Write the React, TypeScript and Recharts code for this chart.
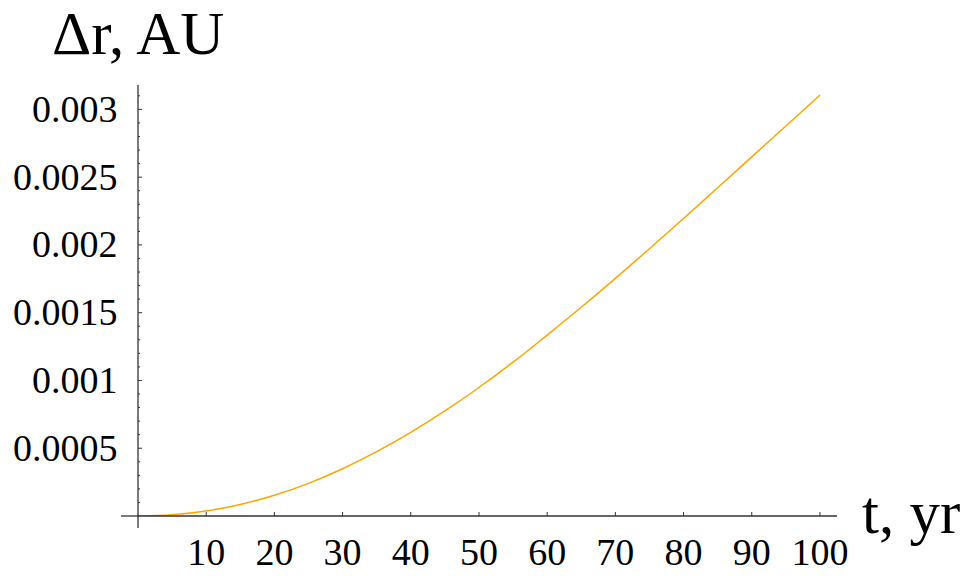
import { LineChart, Line, XAxis, YAxis, ReferenceLine } from "recharts";

// years since start
const years = [0, 5, 10, 15, 20, 25, 30, 35, 40, 45, 50, 55, 60, 65, 70, 75, 80, 85, 90, 95, 100];
// Δr in AU
const deltaR = [
  0, 0.0000095, 0.000037, 0.000085, 0.000153, 0.000241, 0.000349, 0.000475, 0.000617, 0.000775,
  0.000948, 0.001135, 0.001335, 0.00154, 0.001753, 0.001972, 0.002195, 0.002422, 0.00265, 0.002878,
  0.003105,
];
const xTicks = [10, 20, 30, 40, 50, 60, 70, 80, 90, 100];
const yMajorLabels = ["0.0005", "0.001", "0.0015", "0.002", "0.0025", "0.003"];
const yTicks = Array.from({ length: 31 }, (_, i) => Number(((i + 1) / 10000).toFixed(4)));

const data = years.map((t, i) => ({ t, dr: deltaR[i] }));

const FONT = "'Liberation Serif', 'Times New Roman', serif";
const AXIS = "#333";

function YTick(props: any) {
  const { x, y, payload } = props;
  const v = payload.value as number;
  const k = Math.round(v * 10000);
  const major = k % 5 === 0;
  return (
    <g>
      <line x1={x} y1={y} x2={x + (major ? 4 : 2)} y2={y} stroke={AXIS} strokeWidth={1} />
      {major && (
        <text x={x - 20.5} y={y + 12.5} textAnchor="end" fontSize={38} fontFamily={FONT} fill="#000">
          {yMajorLabels[k / 5 - 1]}
        </text>
      )}
    </g>
  );
}

function XTick(props: any) {
  const { x, y, payload } = props;
  return (
    <g>
      <line x1={x} y1={y} x2={x} y2={y - 4} stroke={AXIS} strokeWidth={1} />
      <text x={x} y={y + 49} textAnchor="middle" fontSize={38} fontFamily={FONT} fill="#000">
        {payload.value}
      </text>
    </g>
  );
}

export default function App() {
  return (
    <div style={{ position: "absolute", left: 0, top: 0, width: 967, height: 576, background: "#fff" }}>
      <LineChart width={967} height={576} data={data} margin={{ top: 85, right: 130, bottom: 0, left: 0 }}>
        <XAxis
          dataKey="t"
          type="number"
          domain={[0, 102.5]}
          ticks={xTicks}
          height={60}
          tickSize={0}
          tickMargin={0}
          tickLine={false}
          axisLine={{ stroke: AXIS, strokeWidth: 1.3 }}
          tick={<XTick />}
          interval={0}
          label={{
            value: "t, yr",
            position: "insideTopRight",
            content: (p: any) => (
              <text x={p.viewBox.x + p.viewBox.width + 25} y={p.viewBox.y + 17} fontSize={61} fontFamily={FONT} fill="#000">
                t, yr
              </text>
            ),
          }}
        />
        <YAxis
          type="number"
          domain={[0, 0.00318]}
          allowDataOverflow
          ticks={yTicks}
          width={138}
          tickSize={0}
          tickMargin={0}
          tickLine={false}
          interval={0}
          axisLine={{ stroke: AXIS, strokeWidth: 1.3 }}
          tick={<YTick />}
          label={{
            value: "Δr, AU",
            position: "insideTopLeft",
            content: (p: any) => (
              <text x={p.viewBox.x + p.viewBox.width - 86} y={p.viewBox.y - 31} fontSize={61} fontFamily={FONT} fill="#000">
                Δr, AU
              </text>
            ),
          }}
        />
        <ReferenceLine
          segment={[{ x: -2.5, y: 0 }, { x: 0, y: 0 }]}
          stroke={AXIS}
          strokeWidth={1.3}
          ifOverflow="visible"
        />
        <ReferenceLine
          segment={[{ x: 0, y: 0 }, { x: 0, y: -0.0000885 }]}
          stroke={AXIS}
          strokeWidth={1.3}
          ifOverflow="visible"
        />
        <Line
          type="monotone"
          dataKey="dr"
          stroke="#FFA500"
          strokeWidth={1.5}
          dot={false}
          isAnimationActive={false}
        />
      </LineChart>
    </div>
  );
}
